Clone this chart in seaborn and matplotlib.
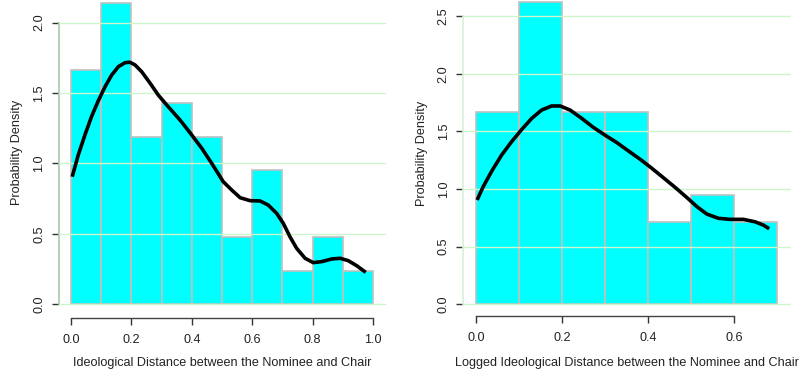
import numpy as np
import pandas as pd
import matplotlib
matplotlib.use("Agg")
import matplotlib.pyplot as plt
import seaborn as sns

# ---------------- data ----------------
left_edges = [0.0, 0.1, 0.2, 0.3, 0.4, 0.5, 0.6, 0.7, 0.8, 0.9, 1.0]
left_counts = [7, 9, 5, 6, 5, 2, 4, 1, 2, 1]
right_edges = [0.0, 0.1, 0.2, 0.3, 0.4, 0.5, 0.6, 0.7]
right_counts = [7, 11, 7, 7, 3, 4, 3]

left_curve_x = [0.004, 0.024, 0.046, 0.068, 0.090, 0.113, 0.135, 0.157, 0.179, 0.195,
                0.212, 0.234, 0.262, 0.289, 0.322, 0.361, 0.400, 0.433, 0.466, 0.504,
                0.532, 0.560, 0.593, 0.626, 0.653, 0.681, 0.703, 0.725, 0.747, 0.775,
                0.802, 0.830, 0.863, 0.891, 0.918, 0.946, 0.976]
left_curve_y = [0.906, 1.060, 1.202, 1.333, 1.444, 1.546, 1.629, 1.688, 1.716, 1.719,
                1.700, 1.652, 1.570, 1.486, 1.403, 1.309, 1.202, 1.108, 1.001, 0.871,
                0.812, 0.757, 0.736, 0.734, 0.705, 0.646, 0.575, 0.480, 0.398, 0.327,
                0.296, 0.303, 0.322, 0.327, 0.310, 0.274, 0.227]
right_curve_x = [0.002, 0.016, 0.036, 0.059, 0.082, 0.106, 0.129, 0.152, 0.175, 0.195,
                 0.218, 0.245, 0.272, 0.299, 0.327, 0.353, 0.381, 0.408, 0.435, 0.462,
                 0.489, 0.513, 0.536, 0.563, 0.590, 0.621, 0.648, 0.667, 0.681]
right_curve_y = [0.905, 1.020, 1.156, 1.295, 1.410, 1.518, 1.613, 1.685, 1.720, 1.720,
                 1.685, 1.613, 1.535, 1.468, 1.402, 1.332, 1.258, 1.180, 1.098, 1.015,
                 0.928, 0.847, 0.783, 0.746, 0.737, 0.737, 0.716, 0.688, 0.656]

left_xticks = [0.0, 0.2, 0.4, 0.6, 0.8, 1.0]
left_yticks = [0.0, 0.5, 1.0, 1.5, 2.0]
right_xticks = [0.0, 0.2, 0.4, 0.6]
right_yticks = [0.0, 0.5, 1.0, 1.5, 2.0, 2.5]

left_xlabel = "Ideological Distance between the Nominee and Chair"
right_xlabel = "Logged Ideological Distance between the Nominee and Chair"
ylabel = "Probability Density"

# ---------------- style ----------------
sns.set_style("white")
plt.rcParams['font.family'] = ['Liberation Sans', 'DejaVu Sans']

W, H = 801, 372
fig = plt.figure(figsize=(W / 100, H / 100), dpi=100)

def px_axes(l, r, b, t):
    return fig.add_axes([l / W, 1 - b / H, (r - l) / W, (b - t) / H])

GRID = '#ccf5cc'
FS = 9.1

def panel(ax, edges, counts, cx, cy, xticks, yticks, xlim, ylim, xlabel, spinecol,
          xlab_x, ylab_x, ylab_y):
    mids = [(edges[i] + edges[i + 1]) / 2 for i in range(len(counts))]
    df = pd.DataFrame({'x': mids, 'w': counts})
    sns.histplot(data=df, x='x', weights='w', bins=edges, stat='density',
                 color='#00ffff', edgecolor='#c0c0c0', linewidth=1.2, alpha=1,
                 ax=ax, zorder=2)
    for yt in yticks:
        ax.axhline(yt, color=GRID, lw=1.0, zorder=3)
    sns.lineplot(x=cx, y=cy, color='black', lw=2.6, ax=ax, zorder=4, sort=False,
                 solid_joinstyle='round', solid_capstyle='butt')
    ax.set_xlim(*xlim)
    ax.set_ylim(*ylim)
    for s in ['top', 'right']:
        ax.spines[s].set_visible(False)
    ax.spines['left'].set_bounds(yticks[0], yticks[-1])
    ax.spines['left'].set_color(spinecol)
    ax.spines['left'].set_linewidth(1.2)
    ax.spines['bottom'].set_bounds(xticks[0], xticks[-1])
    ax.spines['bottom'].set_color('#444444')
    ax.spines['bottom'].set_linewidth(1.0)
    ax.set_xticks(xticks)
    ax.set_xticklabels([f"{v:.1f}" for v in xticks])
    ax.set_yticks(yticks)
    ax.set_yticklabels([f"{v:.1f}" for v in yticks], rotation=90, va='center')
    ax.tick_params(axis='both', direction='out', length=4.8, width=1.0,
                   color='#333333', labelsize=FS, labelcolor='#222222',
                   bottom=True, left=True)
    ax.tick_params(axis='x', pad=7)
    ax.tick_params(axis='y', pad=5)
    ax.set_xlabel('')
    ax.set_ylabel('')
    fig.text(xlab_x / W, 1 - 362.7 / H, xlabel, ha='center', va='center',
             fontsize=FS, color='#222222')
    fig.text(ylab_x / W, 1 - ylab_y / H, ylabel, ha='center', va='center',
             rotation=90, fontsize=FS, color='#222222')

axL = px_axes(58.7, 386, 317.7, 0)
panel(axL, left_edges, left_counts, left_curve_x, left_curve_y,
      left_xticks, left_yticks, (-0.0407, 1.043), (-0.095, 2.161),
      left_xlabel, '#a8c8a8', 222.5, 17.3, 152)

axR = px_axes(463.3, 790.7, 316, 0)
panel(axR, right_edges, right_counts, right_curve_x, right_curve_y,
      right_xticks, right_yticks, (-0.0302, 0.731), (-0.101, 2.639),
      right_xlabel, '#dcefdc', 627, 421.7, 153)

fig.savefig("out.png", dpi=100)
